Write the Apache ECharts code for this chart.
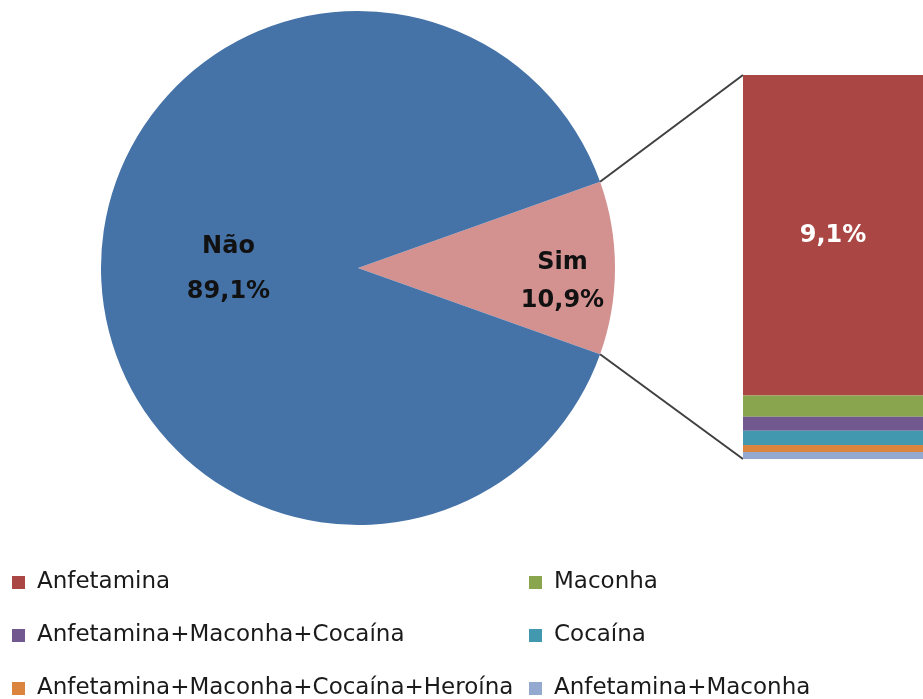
<!DOCTYPE html>
<html>
<head>
<meta charset="utf-8">
<script src="https://cdn.jsdelivr.net/npm/echarts@6/dist/echarts.min.js"></script>
<style>
  html, body { margin: 0; padding: 0; background: #fff; }
  #main { width: 923px; height: 699px; }
</style>
</head>
<body>
<div id="main"></div>
<script>
// pie: share of answers
var pieNames = ['Sim', 'Não'];
var pieValues = [10.9, 89.1];
var pieColors = ['#D39190', '#4572A7'];

// breakdown of "Sim" (stacked bar, top to bottom)
var drugNames = ['Anfetamina', 'Maconha', 'Anfetamina+Maconha+Cocaína', 'Cocaína',
                 'Anfetamina+Maconha+Cocaína+Heroína', 'Anfetamina+Maconha'];
var drugValues = [9.1, 0.6, 0.4, 0.4, 0.2, 0.2];
var drugColors = ['#AA4643', '#89A54E', '#71588F', '#4198AF', '#DB843D', '#93A9CF'];

var legendLeft = ['Anfetamina', 'Anfetamina+Maconha+Cocaína', 'Anfetamina+Maconha+Cocaína+Heroína'];
var legendRight = ['Maconha', 'Cocaína', 'Anfetamina+Maconha'];

var fmt = function (v) { return v.toFixed(1).replace('.', ','); };

var chart = echarts.init(document.getElementById('main'));

var pieCenter = [358, 268];
var pieRadius = 257;
var simShare = pieValues[0] / (pieValues[0] + pieValues[1]);
var halfAngle = simShare * 180;   // degrees, Sim slice centred on the right

var barTotal = drugValues.reduce(function (a, b) { return a + b; }, 0);

var barSeries = drugNames.map(function (n, i) {
    return {
        name: n,
        type: 'bar',
        stack: 'sim',
        barWidth: '100%',
        data: [drugValues[i]],
        itemStyle: { color: drugColors[i] },
        label: {
            show: i === 0,
            position: 'inside',
            formatter: function (p) { return fmt(p.value) + '%'; },
            color: '#fff',
            fontFamily: 'DejaVu Sans',
            fontWeight: 'bold',
            fontSize: 24
        }
    };
});

var legendBase = {
    orient: 'vertical',
    padding: 0,
    height: 200,
    itemWidth: 13,
    itemHeight: 13,
    itemGap: 30,
    icon: 'rect',
    selectedMode: false,
    textStyle: {
        fontFamily: 'DejaVu Sans',
        fontSize: 23,
        color: '#1a1a1a',
        padding: [0, 0, 0, 7]
    }
};

option = {
    animation: false,
    backgroundColor: '#fff',
    grid: { left: 743, right: 0, top: 75, height: 384 },
    xAxis: { type: 'category', data: ['Sim'], show: false },
    yAxis: { type: 'value', min: 0, max: barTotal, inverse: true, show: false },
    legend: [
        Object.assign({}, legendBase, { left: 12, top: 571, data: legendLeft }),
        Object.assign({}, legendBase, { left: 529, top: 571, data: legendRight })
    ],
    series: [{
        name: 'Resposta',
        type: 'pie',
        center: pieCenter,
        radius: pieRadius,
        startAngle: halfAngle,
        clockwise: true,
        silent: true,
        labelLine: { show: false },
        data: pieNames.map(function (n, i) {
            return {
                name: n,
                value: pieValues[i],
                itemStyle: { color: pieColors[i] },
                label: i === 0 ? { offset: [73, 14], lineHeight: 38 } : { lineHeight: 45, offset: [2, 1] }
            };
        }),
        label: {
            show: true,
            position: 'inside',
            formatter: function (p) { return p.name + '\n' + fmt(p.value) + '%'; },
            color: '#111',
            fontFamily: 'DejaVu Sans',
            fontWeight: 'bold',
            fontSize: 24
        }
    }].concat(barSeries)
};

chart.setOption(option);

// connector lines from the Sim slice edges to the bar corners
function drawConnectors() {
    var rad = halfAngle * Math.PI / 180;
    var topEdge = [pieCenter[0] + pieRadius * Math.cos(rad), pieCenter[1] - pieRadius * Math.sin(rad)];
    var botEdge = [pieCenter[0] + pieRadius * Math.cos(rad), pieCenter[1] + pieRadius * Math.sin(rad)];
    var rect = chart.getModel().getComponent('grid').coordinateSystem.getRect();
    var yTop = chart.convertToPixel({ yAxisIndex: 0 }, 0);
    var yBot = chart.convertToPixel({ yAxisIndex: 0 }, barTotal);
    var style = { stroke: '#404040', lineWidth: 2, fill: null };
    chart.setOption({
        graphic: [
            { type: 'polyline', shape: { points: [topEdge, [rect.x, yTop]] }, style: style },
            { type: 'polyline', shape: { points: [botEdge, [rect.x, yBot]] }, style: style }
        ]
    });
}
drawConnectors();
</script>
</body>
</html>
